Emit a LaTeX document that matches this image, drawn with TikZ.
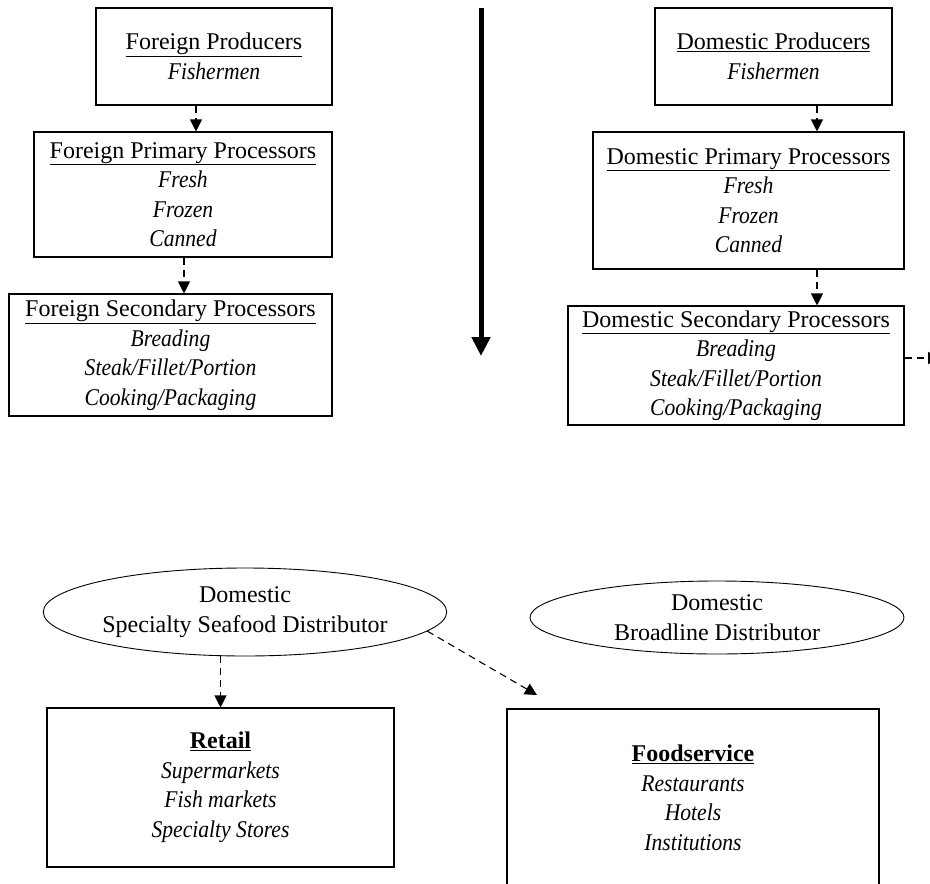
\documentclass[tikz,border=0pt]{standalone}
\usepackage{fontspec}
\setmainfont{Liberation Serif}[ItalicFeatures={FakeStretch=0.9}]
\usetikzlibrary{arrows.meta,shapes.geometric}
\tikzset{
	stage/.style={draw,line width=1.1pt,rectangle,align=center,inner sep=0pt,font=\fontsize{24}{29.5}\selectfont},
	distrib/.style={draw,line width=0.9pt,ellipse,align=center,inner sep=0pt,font=\fontsize{24}{29.5}\selectfont},
	flow/.style={->,line width=1.1pt,dash pattern=on 7pt off 5pt}
}
\newcommand{\head}[1]{\underline{#1}}
\begin{document}
\begin{tikzpicture}[line join=miter,>={Triangle[width=12pt,length=12pt]},x=1pt,y=-1pt]
		\clip(0,0) rectangle (930,884);
		\node[stage,minimum width=236,minimum height=97] (fprod) at (214,56.5) {\head{Foreign Producers}\\\textit{Fishermen}};
		\node[stage,minimum width=298,minimum height=125] (fprim) at (183,194.5) {\head{Foreign Primary Processors}\\\textit{Fresh}\\\textit{Frozen}\\\textit{Canned}};
		\node[stage,minimum width=323,minimum height=122] (fsec) at (170.5,355) {\head{Foreign Secondary Processors}\\\textit{Breading}\\\textit{Steak/Fillet/Portion}\\\textit{Cooking/Packaging}};
		\node[stage,minimum width=237,minimum height=97] (dprod) at (773.5,56.5) {\head{Domestic Producers}\\\textit{Fishermen}};
		\node[stage,minimum width=311,minimum height=137] (dprim) at (748.5,200.5) {\head{Domestic Primary Processors}\\\textit{Fresh}\\\textit{Frozen}\\\textit{Canned}};
		\node[stage,minimum width=336,minimum height=119] (dsec) at (736,365.5) {\head{Domestic Secondary Processors}\\\textit{Breading}\\\textit{Steak/Fillet/Portion}\\\textit{Cooking/Packaging}};
		\node[distrib,minimum width=348,minimum height=88] (ssd) at (245,612) {Domestic\\Specialty Seafood Distributor};
		\node[distrib,minimum width=374,minimum height=73] (bld) at (717,617.5) {Domestic\\Broadline Distributor};
		\node[stage,minimum width=347,minimum height=159] (retail) at (220.5,787.5) {\textbf{\head{Retail}}\\\textit{Supermarkets}\\\textit{Fish markets}\\\textit{Specialty Stores}};
		\node[stage,minimum width=372,minimum height=178] (fsvc) at (693,798) {\textbf{\head{Foodservice}}\\\textit{Restaurants}\\\textit{Hotels}\\\textit{Institutions}};
		\coordinate (ttop) at (481,8);
		\coordinate (tbot) at (481,356);
		\coordinate (fsin) at (537,695);
		\coordinate (dout) at (940,358);
		\draw [line width=5pt,-{Triangle[width=18pt,length=19pt]}] (ttop)-- (tbot);
		\draw [flow] ([xshift=-18pt]fprod.south)-- ([xshift=-18pt]fprod.south |- fprim.north);
		\draw [flow] ([xshift=1pt]fprim.south)-- ([xshift=1pt]fprim.south |- fsec.north);
		\draw [flow] ([xshift=43.5pt]dprod.south)-- ([xshift=43.5pt]dprod.south |- dprim.north);
		\draw [flow] ([xshift=68.5pt]dprim.south)-- ([xshift=68.5pt]dprim.south |- dsec.north);
		\draw [flow] (dsec.east |- dout)-- (dout);
		\draw [flow] (ssd.south -| retail.north)-- (retail.north);
		\draw [flow] (ssd.-6)-- (fsin);
\end{tikzpicture}
\end{document}
